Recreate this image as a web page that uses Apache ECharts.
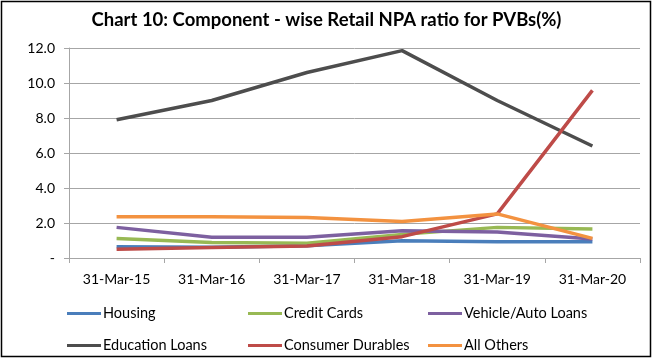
<!DOCTYPE html>
<html><head><meta charset="utf-8">
<script src="https://cdn.jsdelivr.net/npm/echarts@6/dist/echarts.min.js"></script>
<style>html,body{margin:0;padding:0;background:#fff}#c{width:653px;height:359px}</style>
</head><body><div id="c"></div>
<script>
const categories = ['31-Mar-15','31-Mar-16','31-Mar-17','31-Mar-18','31-Mar-19','31-Mar-20'];
const housing = [0.65, 0.62, 0.70, 0.99, 0.93, 0.93];
const creditCards = [1.12, 0.88, 0.85, 1.35, 1.75, 1.66];
const vehicleAuto = [1.75, 1.18, 1.18, 1.56, 1.48, 1.08];
const educationLoans = [7.9, 9.0, 10.6, 11.85, 9.0, 6.4];
const consumerDurables = [0.5, 0.6, 0.69, 1.22, 2.52, 9.58];
const allOthers = [2.36, 2.36, 2.32, 2.08, 2.52, 1.12];
const seriesNames = ['Housing','Credit Cards','Vehicle/Auto Loans','Education Loans','Consumer Durables','All Others'];
const seriesData = [housing, creditCards, vehicleAuto, educationLoans, consumerDurables, allOthers];
const colors = ['#4A7EBB','#98B954','#7D60A0','#4D4D4D','#BE4B48','#F39240'];
const FONT = 'Lato';
const legendPos = [[62,301],[243,301],[423,301],[62,333],[243,333],[423,333]];

const chart = echarts.init(document.getElementById('c'), null, {renderer:'canvas'});
const option = {
  animation:false,
  color: colors,
  title:{text:'Chart 10: Component - wise Retail NPA ratio for PVBs(%)', left:'center', top:6,
    textStyle:{fontFamily:FONT, fontWeight:'bold', fontSize:18.5, color:'#000'}},
  grid:{left:69, right:13, top:48, bottom:101},
  graphic:[{type:'rect', shape:{x:1.5,y:1.5,width:649,height:355}, style:{fill:'none', stroke:'#000', lineWidth:1.5}, silent:true}],
  legend: seriesNames.map((n,i)=>({data:[n], left:legendPos[i][0], top:legendPos[i][1], icon:'rect', itemWidth:34, itemHeight:3, itemGap:2,
    textStyle:{fontFamily:FONT, fontSize:14.5, color:'#000', padding:[0,0,0,-3]}})),
  xAxis:{type:'category', data:categories, boundaryGap:true,
    axisLine:{lineStyle:{color:'#A6A6A6', width:1}},
    axisTick:{show:true, length:5, lineStyle:{color:'#A6A6A6'}},
    axisLabel:{fontFamily:FONT, fontSize:14, color:'#000', margin:14}},
  yAxis:{type:'value', min:0, max:12, interval:2,
    axisLine:{show:true, lineStyle:{color:'#A6A6A6'}},
    axisTick:{show:true, inside:false, length:5, lineStyle:{color:'#A6A6A6'}},
    splitLine:{lineStyle:{color:'#A6A6A6', width:1}},
    axisLabel:{fontFamily:FONT, fontSize:14, color:'#000', margin:14, formatter:v=> v===0 ? '-' : v.toFixed(1)}},
  series: seriesNames.map((n,i)=>({name:n, type:'line', data:seriesData[i], symbol:'none', lineStyle:{width:3.5, color:colors[i]}, itemStyle:{color:colors[i]}}))
};
chart.setOption(option);
</script></body></html>
